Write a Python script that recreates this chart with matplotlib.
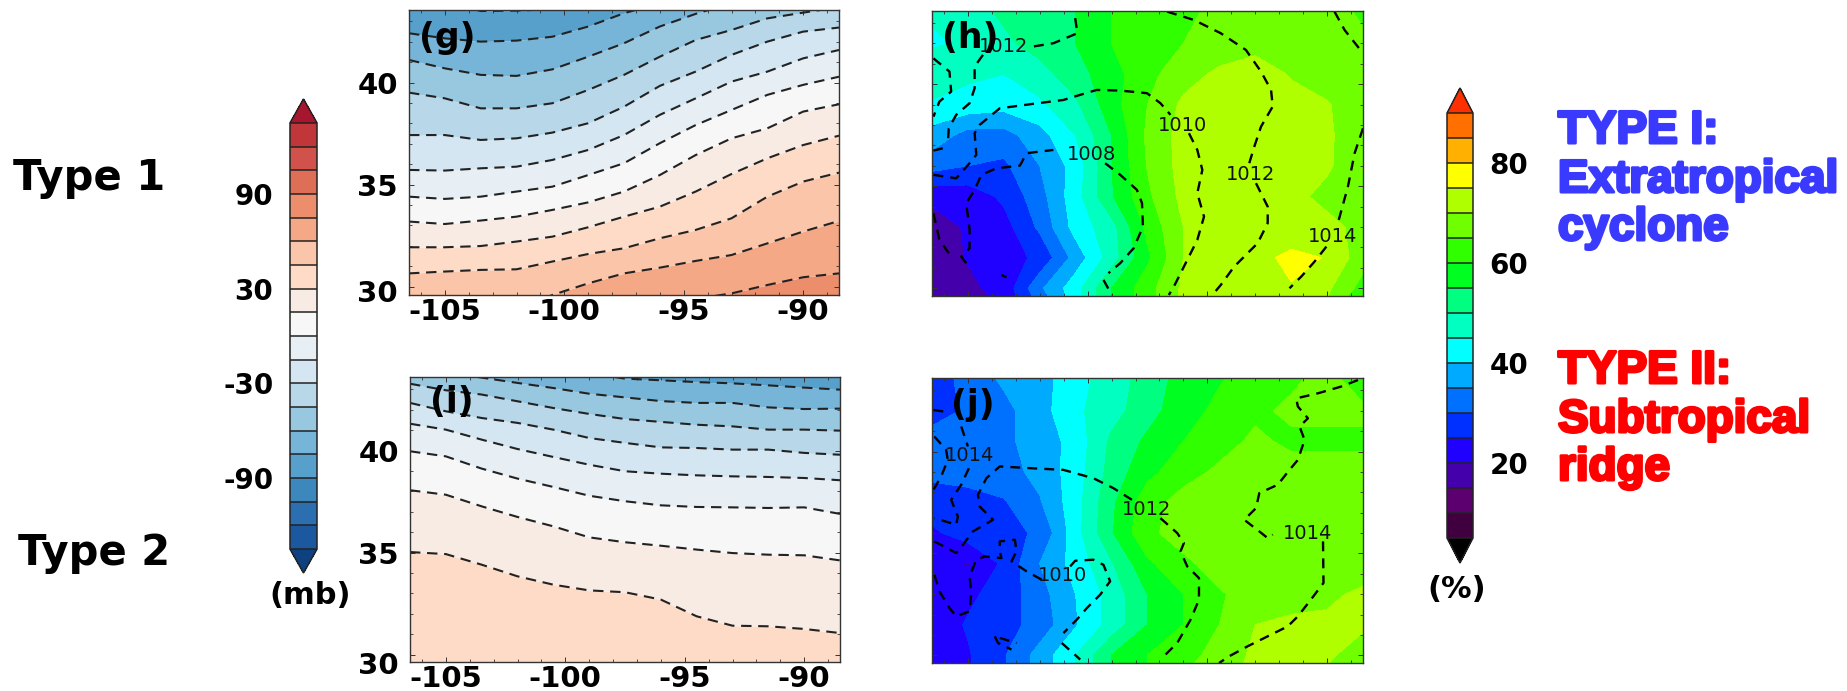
#!/usr/bin/env python3
"""Composite of sea level pressure / humidity maps for Type 1 and Type 2 cases."""

import numpy as np
import matplotlib
matplotlib.use("Agg")
import matplotlib.pyplot as plt
import matplotlib.patheffects as pe
from matplotlib.cm import ScalarMappable
from matplotlib.colors import BoundaryNorm, ListedColormap
from matplotlib.ticker import MultipleLocator
from matplotlib.transforms import ScaledTranslation

plt.rcParams["font.family"] = "DejaVu Sans"
plt.rcParams["axes.unicode_minus"] = False

W, H = 1847, 691

# ── anomaly colour scale (mb) ─────────────────────────────────────────────────
MB_LEVELS = list(range(-135, 136, 15))
MB_TICKS = [-90, -30, 30, 90]
MB_COLORS = ["#1b589f", "#2c6fb0", "#3c88bc", "#57a0cb", "#77b5d8", "#98c8e0",
             "#b8d8ea", "#d4e6f2", "#e7eff5", "#f7f7f7", "#f8ebe3", "#fddbc7",
             "#fac5a8", "#f5a885", "#ec8d6b", "#df6e57", "#d1524a", "#c13639"]
MB_UNDER, MB_OVER = "#0f4080", "#a8152f"

# ── humidity colour scale (%) ─────────────────────────────────────────────────
RH_LEVELS = list(range(5, 91, 5))
RH_TICKS = [20, 40, 60, 80]
RH_COLORS = ["#400040", "#5c0070", "#4400aa", "#2000ff", "#0030ff", "#0070ff",
             "#00aaff", "#00ffff", "#00ffc0", "#00ff80", "#00ff20", "#30ff00",
             "#70ff00", "#b0ff00", "#ffff00", "#ffb000", "#ff7000"]
RH_UNDER, RH_OVER = "#000000", "#ff3000"

# ── panel (g): latitude of each anomaly isobar along LONS ─────────────────────
LONS = [-106.5, -105, -103.5, -102, -100.5, -99, -97.5, -96, -94.5, -93, -91.5, -90, -88.5]
G_LEVELS = [75, 60, 45, 30, 15, 0, -15, -30, -45, -60, -75, -90]
G_75 = [29, 29, 29, 29, 29, 29, 29, 29, 29.4, 29.67, 30.08, 30.46, 30.65]
G_60 = [28.5, 28.6, 28.7, 28.9, 29.59, 30.16, 30.65, 30.93, 31.26, 31.55, 32.12, 32.70, 33.22]
G_45 = [30.65, 30.74, 30.82, 30.85, 31.23, 31.60, 31.88, 32.37, 32.78, 33.35, 34.41, 35.15, 35.59]
G_30 = [31.93, 31.93, 31.99, 32.21, 32.45, 32.91, 33.43, 33.92, 34.66, 35.52, 36.29, 36.94, 37.40]
G_15 = [33.19, 33.07, 33.24, 33.43, 33.76, 34.13, 34.66, 35.47, 36.45, 37.27, 37.76, 38.58, 38.94]
G_00 = [34.41, 34.30, 34.41, 34.66, 34.90, 35.47, 36.05, 37.03, 37.92, 38.66, 39.40, 39.89, 40.29]
G_M15 = [35.72, 35.69, 35.80, 35.88, 36.21, 36.70, 37.43, 38.42, 39.23, 40.05, 40.54, 41.19, 41.60]
G_M30 = [37.43, 37.43, 37.19, 37.27, 37.55, 38.01, 38.82, 39.84, 40.54, 41.36, 42.01, 42.50, 42.70]
G_M45 = [39.51, 39.23, 38.74, 38.74, 38.99, 39.64, 40.38, 41.27, 42.09, 42.58, 43.15, 43.43, 43.7]
G_M60 = [41.11, 40.70, 40.38, 40.33, 40.65, 41.27, 41.93, 42.75, 43.37, 43.9, 44, 44, 44]
G_M75 = [42.42, 42.17, 42.01, 42.06, 42.25, 42.75, 43.40, 43.9, 44.1, 44.1, 44.1, 44.1, 44.1]
G_M90 = [44, 44, 43.51, 43.53, 43.6, 44.2, 44.2, 44.2, 44.2, 44.2, 44.2, 44.2, 44.2]
G_CURVES = [G_75, G_60, G_45, G_30, G_15, G_00, G_M15, G_M30, G_M45, G_M60, G_M75, G_M90]

# ── panel (i) ─────────────────────────────────────────────────────────────────
I_LEVELS = [30, 15, 0, -15, -30, -45, -60, -75]
I_30 = [35.03, 34.93, 34.41, 33.84, 33.43, 33.15, 33.06, 32.70, 31.88, 31.42, 31.39, 31.26, 31.06]
I_15 = [38.06, 37.84, 37.27, 36.75, 36.29, 35.75, 35.51, 35.34, 35.15, 34.98, 34.90, 34.87, 34.62]
I_00 = [39.97, 39.72, 39.12, 38.63, 38.22, 37.79, 37.52, 37.32, 37.24, 37.22, 37.19, 37.22, 36.90]
I_M15 = [41.32, 41.03, 40.54, 40.08, 39.69, 39.31, 38.99, 38.87, 38.79, 38.74, 38.71, 38.66, 38.55]
I_M30 = [42.34, 41.93, 41.60, 41.36, 41.03, 40.62, 40.38, 40.16, 40.13, 40.05, 40.05, 39.89, 39.80]
I_M45 = [43.28, 42.96, 42.75, 42.42, 42.09, 41.80, 41.55, 41.41, 41.27, 41.19, 41.03, 41.03, 40.98]
I_M60 = [43.9, 43.85, 43.58, 43.32, 43.07, 42.79, 42.61, 42.43, 42.34, 42.34, 42.12, 42.04, 42.06]
I_M75 = [44, 44, 44, 44, 44, 43.8, 43.53, 43.45, 43.36, 43.30, 43.20, 43.09, 42.99]
I_CURVES = [I_30, I_15, I_00, I_M15, I_M30, I_M45, I_M60, I_M75]

# ── panels (h), (j): humidity on a coarse grid, north to south ────────────────
RH_LATS = [43.65, 42, 40.5, 39, 37.5, 36, 34.5, 33, 31.5, 30, 29.5]
H_RH = [
    [46, 48, 51, 52.5, 55, 60, 62, 64, 66, 67, 67, 67, 64],
    [44, 46, 49, 52, 55, 60, 62, 65, 67, 68, 67, 67, 66],
    [50, 46, 45, 48, 53, 58, 63.5, 68, 71, 73, 69.5, 67, 65],
    [44, 43, 42, 44, 49, 58, 65, 71, 72, 73, 72, 70.5, 66],
    [38, 33, 33, 38, 45, 55, 66, 72, 72, 73, 72, 71, 66],
    [32, 30, 29, 35, 42, 54.8, 65.3, 72, 72, 73, 72, 71, 65],
    [21, 22, 26, 33, 43, 54.5, 64, 71.5, 72, 73, 72, 68, 66],
    [18, 20.5, 23, 31, 42, 48, 61.5, 70, 72, 73, 71, 72, 68],
    [17, 20.3, 23, 26, 37, 47.5, 59, 70, 72, 73, 76.5, 74.7, 67],
    [17, 19, 21.5, 34, 43, 55, 63, 71, 73, 73, 74.6, 71, 63],
    [16.5, 18, 21, 32, 43, 55, 63, 71, 73, 73, 73, 70, 60],
]
J_RH = [
    [27, 32, 36, 38, 43, 47.5, 52, 57, 59.5, 62, 64, 66.5, 62],
    [27, 31, 33.5, 38, 44, 48, 53, 58, 61.2, 64, 66, 66, 66],
    [33, 33, 34, 37, 42, 51, 56, 60, 63, 66, 64, 64, 64],
    [31, 32, 33, 36.5, 42.5, 52, 58.5, 63, 66, 67, 67, 67, 67],
    [28, 28, 29.5, 34.5, 43, 54, 63, 67, 67, 67, 67, 67, 67],
    [24, 27.5, 29, 30.5, 43, 54.5, 64, 67, 67, 67, 67, 67, 67],
    [22, 19.5, 26, 35, 42, 49.5, 59, 64, 67, 67, 67, 67, 67],
    [21, 24, 27, 33, 40, 47, 55, 60, 64.5, 67, 67, 69, 71],
    [22, 25.5, 28, 32, 39.5, 47, 55, 60, 65, 70, 71.5, 71, 71],
    [22, 24.5, 29.5, 37, 45, 55, 60, 63, 67, 71, 71, 71, 67],
    [22, 24.5, 29.5, 37, 45, 55, 60, 64, 68, 71, 71, 70, 66],
]

# ── panels (h), (j): pressure isobars as (lon, lat) runs ──────────────────────
H_ISOBARS = [
    [(-100.52, 43.24), (-100.43, 42.5), (-101.43, 42.01), (-102.48, 41.81)],
    [(-104.37, 41.44), (-104.72, 40.87), (-104.72, 39.80), (-104.93, 39.07), (-105.49, 38.50), (-105.80, 37.84), (-105.84, 37.03)],
    [(-106.44, 41.27), (-105.77, 40.62), (-105.70, 39.64), (-106.19, 39.15), (-106.44, 38.41)],
    [(-106.44, 35.56), (-105.49, 35.39), (-104.93, 36.13), (-104.65, 36.54), (-104.72, 37.60), (-104.51, 38.01), (-103.67, 38.82), (-102.27, 39.04), (-101.01, 39.23), (-100.31, 39.48), (-99.62, 39.72), (-98.64, 39.69), (-97.52, 39.56), (-96.96, 39.07), (-96.54, 38.50)],
    [(-95.77, 37.60), (-95.42, 36.78), (-95.21, 35.80), (-95.42, 34.66), (-95.14, 33.51), (-95.42, 32.37), (-95.98, 31.06), (-96.40, 30.08), (-96.61, 29.67)],
    [(-106.44, 36.75), (-106.05, 36.86)],
    [(-105.07, 31.23), (-105.28, 31.55), (-104.93, 31.96), (-104.93, 32.86), (-105.07, 34.17), (-104.72, 34.82), (-104.44, 35.56), (-103.81, 35.88), (-102.83, 36.01), (-102.55, 36.62), (-101.43, 36.78)],
    [(-99.27, 36.13), (-98.64, 35.56), (-97.94, 34.82), (-97.73, 34.17), (-97.69, 33.02), (-98.08, 31.96), (-98.64, 31.23), (-99.13, 30.74)],
    [(-99.34, 30.41), (-98.99, 29.67)],
    [(-106.44, 33.68), (-106.19, 32.37), (-105.70, 31.55)],
    [(-103.60, 30.65), (-103.39, 30.54)],
    [(-96.68, 43.56), (-95.56, 43.15), (-94.44, 42.5), (-93.39, 41.68), (-92.76, 40.62), (-92.34, 39.72), (-92.27, 38.91), (-92.76, 37.92), (-93.04, 36.94), (-93.25, 36.13)],
    [(-92.97, 35.15), (-92.48, 34.00), (-92.48, 33.19), (-92.90, 32.21), (-93.88, 31.06), (-94.44, 30.16), (-94.79, 29.67)],
    [(-89.69, 43.56), (-89.27, 42.66), (-88.50, 41.52)],
    [(-88.50, 37.84), (-88.85, 36.62), (-89.13, 34.98), (-89.55, 33.19)],
    [(-90.03, 32.04), (-90.52, 31.31), (-91.08, 30.57), (-91.57, 30)],
]
H_LABELS = [(-103.53, 41.85, "1012"), (-96.05, 37.96, "1010"), (-99.83, 36.58, "1008"),
            (-93.18, 35.60, "1012"), (-89.76, 32.53, "1014")]

J_ISOBARS = [
    [(-106.44, 42.04), (-105.98, 41.96)],
    [(-105.28, 41.23), (-105.14, 40.74), (-105.0, 40.25)],
    [(-104.96, 39.18), (-105.28, 38.37), (-105.70, 37.63), (-105.42, 36.81), (-105.49, 36.41), (-106.40, 36.73)],
    [(-106.40, 40.74), (-105.91, 40.08), (-105.84, 39.59), (-106.12, 38.77), (-106.44, 38.12)],
    [(-106.40, 35.59), (-105.49, 35.02), (-105.21, 35.42), (-104.79, 36.08), (-103.95, 36.65), (-104.51, 37.30), (-104.58, 37.88), (-104.23, 38.69), (-103.67, 39.27), (-102.34, 39.18), (-101.01, 39.10), (-99.76, 38.69), (-98.92, 38.20), (-98.15, 37.63)],
    [(-96.96, 36.73), (-96.26, 36.00), (-95.98, 35.51), (-96.12, 35.10), (-95.84, 34.36), (-95.35, 33.79), (-95.35, 32.73), (-95.70, 31.75), (-96.26, 30.60), (-96.89, 29.87)],
    [(-106.40, 33.95), (-106.19, 33.14), (-105.77, 32.32), (-105.49, 31.91), (-104.93, 32.16), (-104.86, 33.06), (-104.93, 33.87), (-104.65, 34.69), (-104.30, 34.85), (-103.60, 34.77), (-103.67, 35.10), (-103.67, 35.59), (-103.04, 35.67), (-102.97, 35.10), (-103.18, 34.61), (-102.55, 34.12), (-101.92, 33.71)],
    [(-100.73, 34.36), (-100.52, 34.64), (-99.76, 34.69), (-99.34, 34.44), (-99.06, 33.63), (-99.48, 32.97), (-100.03, 32.32), (-100.45, 31.75), (-101.01, 31.09)],
    [(-101.08, 30.60), (-100.31, 29.79)],
    [(-103.88, 30.93), (-103.74, 30.60), (-103.18, 30.28)],
    [(-103.67, 30.85), (-102.97, 30.60)],
    [(-88.71, 43.51), (-89.41, 43.19), (-90.38, 42.86), (-91.29, 42.61), (-91.22, 42.21), (-90.80, 41.63), (-91.15, 41.23), (-90.94, 40.57), (-91.22, 39.59), (-91.57, 39.10), (-92.06, 38.37), (-92.83, 37.96), (-92.97, 37.22), (-93.46, 36.65), (-92.83, 36.08), (-92.48, 35.75), (-92.27, 35.92)],
    [(-90.17, 35.59), (-90.15, 33.55), (-90.73, 32.65), (-91.22, 31.91), (-91.64, 31.42), (-92.48, 30.93), (-93.32, 30.44), (-94.09, 29.95), (-94.51, 29.62)],
]
J_LABELS = [(-104.93, 39.79, "1014"), (-97.52, 37.17, "1012"), (-90.83, 36.0, "1014"), (-101.04, 33.92, "1010")]


def px_axes(fig, left, top, right, bottom):
    """add_axes from pixel edges of the full picture"""
    return fig.add_axes([left / W, 1 - bottom / H, (right - left) / W, (bottom - top) / H])


def fig_text(fig, x, y, s, **kw):
    fig.text(x / W, 1 - y / H, s, **kw)


def style_map(ax, ylim, labels, drop30=0):
    ax.set_xlim(-106.5, -88.5)
    ax.set_ylim(*ylim)
    ax.set_xticks([-105, -100, -95, -90])
    ax.set_yticks([30, 35, 40])
    ax.xaxis.set_minor_locator(MultipleLocator(1))
    ax.yaxis.set_minor_locator(MultipleLocator(1))
    ax.tick_params(which="major", direction="in", top=True, right=True, length=3.5, width=0.7, color="#333333")
    ax.tick_params(which="minor", direction="in", top=True, right=True, length=2, width=0.6, color="#333333")
    ax.tick_params(axis="x", pad=2, labelsize=21, labelbottom=labels)
    ax.tick_params(axis="y", pad=8, labelsize=21, labelleft=labels)
    for lab in ax.get_xticklabels() + ax.get_yticklabels():
        lab.set_fontweight("bold")
    for s in ax.spines.values():
        s.set_linewidth(1.0)
        s.set_color("#333333")
    if drop30:
        # the 30 label sits a little under its tick in the original
        lab = ax.yaxis.get_major_ticks()[0].label1
        lab.set_transform(lab.get_transform() + ScaledTranslation(0, -drop30 / 72, ax.figure.dpi_scale_trans))


def draw_anomaly(ax, curves, levels, ylim, drop30):
    lons = np.array(LONS)
    fill_lo = np.full(lons.shape, 28.0)
    for lev, curve in zip(levels, curves):
        ax.fill_between(lons, fill_lo, curve, color=MB_CMAP(MB_NORM(lev + 7.5)), lw=0)
        fill_lo = np.array(curve)
    ax.fill_between(lons, fill_lo, 45.0, color=MB_CMAP(MB_NORM(levels[-1] - 7.5)), lw=0)
    for curve in curves:
        ax.plot(lons, curve, color="#222222", lw=1.5, ls=(0, (5, 3.2)))
    style_map(ax, ylim, True, drop30)


def draw_humidity(ax, grid, isobars, labels, ylim):
    ax.contourf(LONS, RH_LATS, np.array(grid), levels=RH_LEVELS, cmap=RH_CMAP, norm=RH_NORM, extend="both")
    for run in isobars:
        pts = np.array(run)
        ax.plot(pts[:, 0], pts[:, 1], color="black", lw=1.7, ls=(0, (4.2, 3)))
    for lon, lat, s in labels:
        ax.text(lon, lat, s, fontsize=14, ha="center", va="center", color="#111111")
    style_map(ax, ylim, False)


def add_colorbar(fig, cax, cmap, norm, ticks, frac, side):
    cb = fig.colorbar(ScalarMappable(norm=norm, cmap=cmap), cax=cax, extend="both",
                      extendfrac=frac, drawedges=True, ticks=ticks)
    cb.outline.set_linewidth(1.1)
    cb.outline.set_edgecolor("#222222")
    cb.dividers.set_color("#222222")
    cb.dividers.set_linewidth(1.1)
    cb.ax.minorticks_off()
    cax.yaxis.set_ticks_position(side)
    cax.tick_params(length=0, pad=12, labelsize=20)
    for lab in cax.get_yticklabels():
        lab.set_fontweight("bold")


MB_CMAP = ListedColormap(MB_COLORS)
MB_CMAP.set_under(MB_UNDER)
MB_CMAP.set_over(MB_OVER)
MB_NORM = BoundaryNorm(MB_LEVELS, len(MB_COLORS))
RH_CMAP = ListedColormap(RH_COLORS)
RH_CMAP.set_under(RH_UNDER)
RH_CMAP.set_over(RH_OVER)
RH_NORM = BoundaryNorm(RH_LEVELS, len(RH_COLORS))


def main():
    fig = plt.figure(figsize=(W / 100, H / 100), dpi=100, facecolor="white")

    ax_g = px_axes(fig, 409, 10, 839, 295)
    ax_i = px_axes(fig, 410, 377, 840, 662)
    ax_h = px_axes(fig, 932, 11, 1363, 296)
    ax_j = px_axes(fig, 932, 378, 1363, 663)

    draw_anomaly(ax_g, G_CURVES, G_LEVELS, (29.59, 43.56), 3.5)
    draw_anomaly(ax_i, I_CURVES, I_LEVELS, (29.64, 43.61), 6)
    draw_humidity(ax_h, H_RH, H_ISOBARS, H_LABELS, (29.62, 43.59))
    draw_humidity(ax_j, J_RH, J_ISOBARS, J_LABELS, (29.62, 43.61))

    # colorbar axes run from tip to tip of the end triangles
    add_colorbar(fig, px_axes(fig, 290, 99, 317, 573), MB_CMAP, MB_NORM, MB_TICKS, 0.056, "left")
    add_colorbar(fig, px_axes(fig, 1447, 88, 1473, 563), RH_CMAP, RH_NORM, RH_TICKS, 0.059, "right")

    # panel letters
    for x, y, s in [(447, 38, "(g)"), (970, 38, "(h)"), (452, 402, "(i)"), (973, 405, "(j)")]:
        fig_text(fig, x, y, s, fontsize=25, fontweight="bold", ha="center", va="center", zorder=10)

    fig_text(fig, 13, 190, "Type 1", fontsize=30, fontweight="bold", va="baseline")
    fig_text(fig, 18, 565, "Type 2", fontsize=30, fontweight="bold", va="baseline")
    fig_text(fig, 310, 595, "(mb)", fontsize=22, fontweight="bold", ha="center", va="center")
    fig_text(fig, 1457, 590, "(%)", fontsize=22, fontweight="bold", ha="center", va="center")

    # right hand legend text
    thick_blue = [pe.withStroke(linewidth=2.2, foreground="#3a3aff")]
    thick_red = [pe.withStroke(linewidth=2.2, foreground="#ff0000")]
    for y, s in [(143, "TYPE I:"), (192, "Extratropical"), (240, "cyclone")]:
        fig_text(fig, 1558, y, s, fontsize=33, fontweight="bold", family="Liberation Sans",
                 color="#3a3aff", va="baseline", path_effects=thick_blue)
    for y, s in [(383, "TYPE II:"), (432, "Subtropical"), (480, "ridge")]:
        fig_text(fig, 1558, y, s, fontsize=33, fontweight="bold", family="Liberation Sans",
                 color="#ff0000", va="baseline", path_effects=thick_red)

    fig.savefig("out.png", dpi=100, facecolor="white")
    plt.close(fig)


if __name__ == "__main__":
    main()
